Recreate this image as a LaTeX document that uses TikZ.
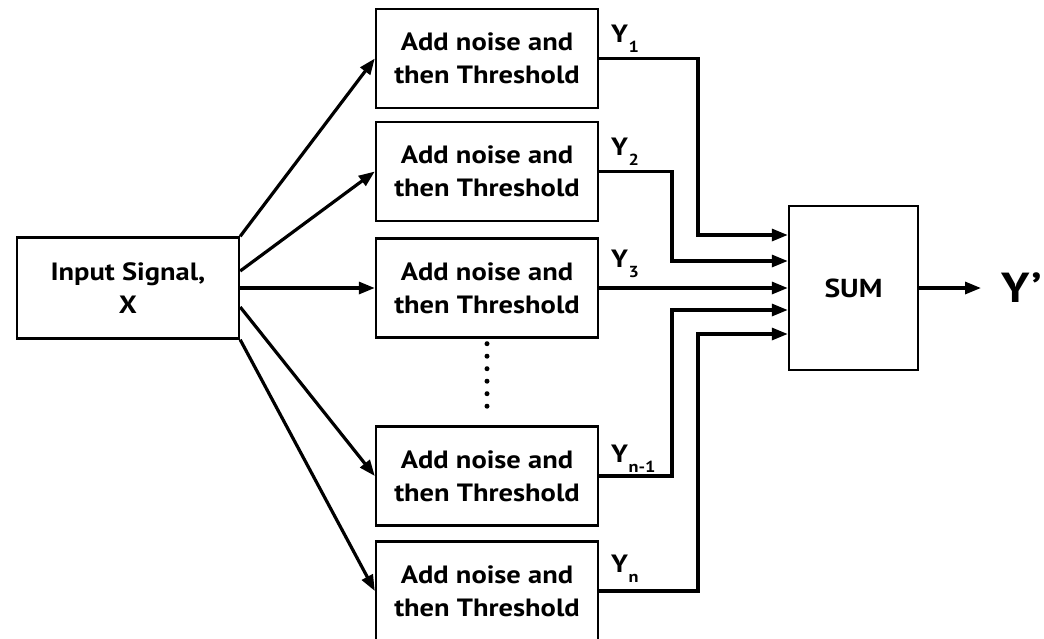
\documentclass[tikz,border=0pt]{standalone}
\usepackage{fontspec}
\setmainfont{PT Sans}[FakeStretch=1.14]
\usetikzlibrary{arrows.meta,calc}
% Y with a lowered small index
\newcommand{\ylab}[1]{Y\kern0.5pt\raisebox{-10pt}{\fontsize{16}{16}\selectfont #1}}
\begin{document}
\begin{tikzpicture}[x=1pt,y=-1pt,
  box/.style={draw,line width=2.4pt,minimum width=222pt,minimum height=99pt,
    inner sep=0pt,align=center,font=\fontsize{25}{33}\selectfont\bfseries},
  flow/.style={line width=3.2pt,-{Triangle[length=16pt,width=12pt]}},
  lab/.style={anchor=base west,inner sep=0pt,font=\fontsize{25}{30}\selectfont\bfseries}]
\useasboundingbox (0,0) rectangle (1044,638);

% source block
\node[box,minimum height=101pt] (in) at (128,288) {Input Signal,\\X};

% threshold stages
\node[box] (b1) at (487,58.5) {Add noise and\\then Threshold};
\node[box] (b2) at (487,171.5) {Add noise and\\then Threshold};
\node[box] (b3) at (487,288) {Add noise and\\then Threshold};
\node[box] (b4) at (487,476) {Add noise and\\then Threshold};
\node[box] (b5) at (487,591) {Add noise and\\then Threshold};

% summing block and output
\node[box,minimum width=129pt,minimum height=164pt,font=\fontsize{26}{28}\selectfont\bfseries] (sum) at (853.5,288) {SUM};
\node[anchor=west,inner sep=0pt,font=\fontsize{42}{44}\selectfont\bfseries] (yout) at (1001,288) {Y\textquoteright};

% fan-out from the source
\draw[flow] (in.north east) -- (b1.west);
\draw[flow] ([yshift=17pt]in.east) -- (b2.west);
\draw[flow] (in.east) -- (b3.west);
\draw[flow] ([yshift=-19pt]in.east) -- (b4.west);
\draw[flow] (in.south east) -- (b5.west);

% elided stages
\draw[line width=5pt,line cap=round,dash pattern=on 0pt off 12.5pt]
  ([yshift=-5pt]b3.south) -- ([yshift=8pt]b4.north);

% inputs of the summing block
\coordinate (s1) at ([yshift=53pt]sum.west);
\coordinate (s2) at ([yshift=27pt]sum.west);
\coordinate (s4) at ([yshift=-22pt]sum.west);
\coordinate (s5) at ([yshift=-46pt]sum.west);
\coordinate (k1) at (698,0);
\coordinate (k2) at (672,0);

\draw[flow] (b1.east) -| (k1 |- s1) -- (s1);
\draw[flow] (b2.east) -| (k2 |- s2) -- (s2);
\draw[flow] (b3.east) -- (sum.west |- b3.east);
\draw[flow] (b4.east) -| (k2 |- s4) -- (s4);
\draw[flow] (b5.east) -| (k1 |- s5) -- (s5);

\draw[flow] (sum.east) -- ([xshift=-20pt]yout.west);

% stage output labels
\node[lab] (y1) at (611,42) {\ylab{1}};
\node[lab] (y2) at (611,155) {\ylab{2}};
\node[lab] (y3) at (611,267) {\ylab{3}};
\node[lab] (y4) at (611,462) {\ylab{n-1}};
\node[lab] (y5) at (611,572) {\ylab{n}};
\end{tikzpicture}
\end{document}
